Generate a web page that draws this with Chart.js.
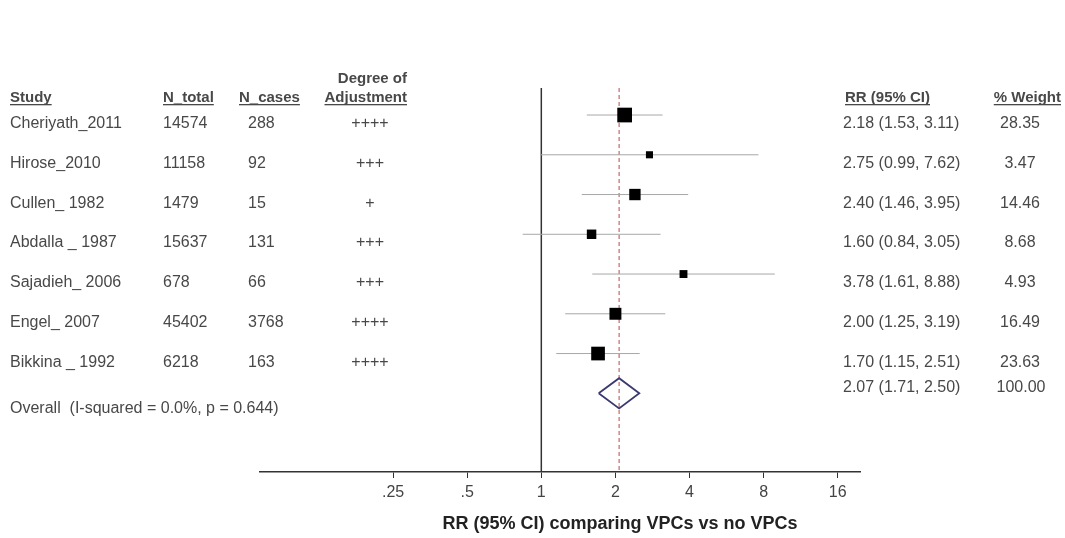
<!DOCTYPE html>
<html>
<head>
<meta charset="utf-8">
<script src="https://cdn.jsdelivr.net/npm/chart.js@4/dist/chart.umd.min.js"></script>
<style>
  html, body { margin: 0; padding: 0; background: #fff; }
  #forest { display: block; }
</style>
</head>
<body>
<canvas id="forest" width="1065" height="538"></canvas>
<script>
// datos del forest plot
const studies = ['Cheriyath_2011', 'Hirose_2010', 'Cullen_ 1982', 'Abdalla _ 1987', 'Sajadieh_ 2006', 'Engel_ 2007', 'Bikkina _ 1992'];
const nTotal = [14574, 11158, 1479, 15637, 678, 45402, 6218];
const nCases = [288, 92, 15, 131, 66, 3768, 163];
const adjustment = ['++++', '+++', '+', '+++', '+++', '++++', '++++'];
const rr = [2.18, 2.75, 2.40, 1.60, 3.78, 2.00, 1.70];
const ciLow = [1.53, 0.99, 1.46, 0.84, 1.61, 1.25, 1.15];
const ciHigh = [3.11, 7.62, 3.95, 3.05, 8.88, 3.19, 2.51];
const weights = [28.35, 3.47, 14.46, 8.68, 4.93, 16.49, 23.63];

const overallLabel = 'Overall  (I-squared = 0.0%, p = 0.644)';
const overallRR = 2.07;
const overallLow = 1.71;
const overallHigh = 2.50;
const overallWeight = 100.00;

const xTicks = [0.25, 0.5, 1, 2, 4, 8, 16];
const xTickLabels = ['.25', '.5', '1', '2', '4', '8', '16'];

const FONT = "'Liberation Sans', Arial, sans-serif";
const TEXT = '#484848';
const Y_MIN = -0.68;
const Y_MAX = 8.98;
const DIAMOND_HALF = 0.38;
const overallRow = studies.length;

// lado del cuadrado segun el peso
function boxSide(w) {
  return 3 + 2.2 * Math.sqrt(w);
}

function fmtCI(r, lo, hi) {
  return r.toFixed(2) + ' (' + lo.toFixed(2) + ', ' + hi.toFixed(2) + ')';
}

// lineas de IC, una por estudio
const ciSets = studies.map((s, i) => ({
  data: [{ x: ciLow[i], y: i }, { x: ciHigh[i], y: i }],
  showLine: true,
  borderColor: '#a8a8a8',
  borderWidth: 1,
  pointRadius: 0,
  order: 3
}));

const datasets = [
  {
    label: 'RR',
    data: rr.map((v, i) => ({ x: v, y: i })),
    pointStyle: 'rect',
    pointRadius: c => boxSide(weights[c.dataIndex]) / Math.SQRT2,
    backgroundColor: '#000',
    borderColor: '#000',
    borderWidth: 0,
    order: 0
  },
  {
    label: 'Overall',
    data: [
      { x: overallLow, y: overallRow },
      { x: overallRR, y: overallRow - DIAMOND_HALF },
      { x: overallHigh, y: overallRow },
      { x: overallRR, y: overallRow + DIAMOND_HALF },
      { x: overallLow, y: overallRow }
    ],
    showLine: true,
    borderColor: '#3a3a72',
    borderWidth: 1.8,
    pointRadius: 0,
    order: 1
  },
  ...ciSets,
  {
    label: 'overall line',
    data: [{ x: overallRR, y: Y_MIN }, { x: overallRR, y: Y_MAX }],
    showLine: true,
    borderColor: '#b8484a',
    borderWidth: 1,
    borderDash: [4, 3],
    pointRadius: 0,
    order: 4
  },
  {
    label: 'null',
    data: [{ x: 1, y: Y_MIN }, { x: 1, y: Y_MAX }],
    showLine: true,
    borderColor: '#333',
    borderWidth: 1.5,
    pointRadius: 0,
    order: 5
  }
];

// texto de las columnas
const tablePlugin = {
  id: 'tabla',
  afterDraw(chart) {
    const c = chart.ctx;
    const y = chart.scales.y;
    c.save();
    c.fillStyle = TEXT;
    c.textBaseline = 'alphabetic';

    function txt(t, x, yy, align, bold, underline) {
      c.font = bold ? 'bold 15px ' + FONT : '16px ' + FONT;
      c.textAlign = align || 'left';
      c.fillText(t, x, yy);
      if (underline) {
        const w = c.measureText(t).width;
        const x0 = align === 'right' ? x - w : align === 'center' ? x - w / 2 : x;
        c.fillRect(x0, yy + 2, w, 1.3);
      }
    }

    // cabeceras
    txt('Study', 10, 102, 'left', true, true);
    txt('N_total', 163, 102, 'left', true, true);
    txt('N_cases', 239, 102, 'left', true, true);
    txt('Degree of', 407, 83, 'right', true, false);
    txt('Adjustment', 407, 102, 'right', true, true);
    txt('RR (95% CI)', 845, 102, 'left', true, true);
    txt('% Weight', 1061, 102, 'right', true, true);

    studies.forEach((s, i) => {
      const py = y.getPixelForValue(i) + 13;
      txt(s, 10, py);
      txt(String(nTotal[i]), 163, py);
      txt(String(nCases[i]), 248, py);
      txt(adjustment[i], 370, py, 'center');
      txt(fmtCI(rr[i], ciLow[i], ciHigh[i]), 843, py);
      txt(weights[i].toFixed(2), 1020, py, 'center');
    });

    const oy = y.getPixelForValue(overallRow);
    txt(overallLabel, 10, oy + 20);
    txt(fmtCI(overallRR, overallLow, overallHigh), 843, oy - 1);
    txt(overallWeight.toFixed(2), 1021, oy - 1, 'center');

    // titulo del eje
    c.font = 'bold 18px ' + FONT;
    c.textAlign = 'center';
    c.fillStyle = '#222';
    c.fillText('RR (95% CI) comparing VPCs vs no VPCs', 620, 529);
    c.restore();
  }
};

new Chart(document.getElementById('forest'), {
  type: 'scatter',
  data: { datasets: datasets },
  options: {
    responsive: false,
    animation: false,
    devicePixelRatio: 1,
    layout: { padding: { left: 260, right: 205, top: 88, bottom: 0 } },
    plugins: {
      legend: { display: false },
      tooltip: { enabled: false }
    },
    scales: {
      x: {
        type: 'logarithmic',
        min: 0.072,
        max: 19.7,
        afterBuildTicks: scale => {
          scale.ticks = xTicks.map(v => ({ value: v }));
        },
        afterFit: scale => {
          scale.height = 66;
        },
        ticks: {
          autoSkip: false,
          maxRotation: 0,
          padding: 5,
          color: '#444',
          font: { family: FONT, size: 16 },
          callback: (v, i) => xTickLabels[i]
        },
        grid: {
          drawOnChartArea: false,
          drawTicks: true,
          tickLength: 6,
          color: '#333'
        },
        border: { display: true, color: '#333', width: 1.5 }
      },
      y: {
        type: 'linear',
        reverse: true,
        min: Y_MIN,
        max: Y_MAX,
        display: false
      }
    }
  },
  plugins: [tablePlugin]
});
</script>
</body>
</html>
